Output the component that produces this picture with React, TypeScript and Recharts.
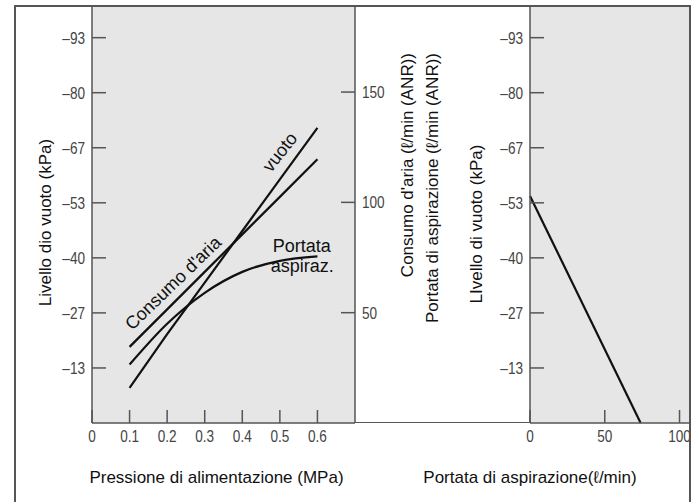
import React from 'react';
import { ComposedChart, Line, XAxis, YAxis, CartesianGrid, ReferenceDot, Label } from 'recharts';

// left panel: supply pressure (MPa)
const pressure = [0.1, 0.2, 0.3, 0.4, 0.5, 0.6];
const vacuumLevel = [8.5, 21.5, 34, 46.5, 59, 71.5]; // kPa, printed as negative
const airConsumption = [34.5, 51.5, 68.5, 85.5, 102.5, 119.5]; // ℓ/min (ANR)
const suctionFlow = [26.5, 45, 59, 68.5, 73.5, 75.5]; // ℓ/min (ANR)

const pressureTicks = [0, 0.1, 0.2, 0.3, 0.4, 0.5, 0.6];
const pressureTickLabels = ['0', '0.1', '0.2', '0.3', '0.4', '0.5', '0.6'];
const vacuumTicks = [13.33, 26.67, 40, 53.33, 66.67, 80, 93.33];
const vacuumTickLabels = ['–13', '–27', '–40', '–53', '–67', '–80', '–93'];
const flowTicks = [50, 100, 150];
const flowTickLabels = ['50', '100', '150'];

// right panel: suction flow vs vacuum level
const suctionFlowAxis = [0, 74];
const vacuumAtFlow = [55, 0];
const suctionTicks = [0, 50, 100];
const suctionTickLabels = ['0', '50', '100'];

// curve labels inside the left panel
const notes = [
  { text: 'vuoto', p: 0.5, v: 65.6, angle: -52 },
  { text: "Consumo d'aria", p: 0.216, v: 33.9, angle: -44 },
];

const leftData = pressure.map((p, i) => ({
  p,
  vuoto: vacuumLevel[i],
  consumo: airConsumption[i],
  portata: suctionFlow[i],
}));
const rightData = suctionFlowAxis.map((q, i) => ({ q, vuoto: vacuumAtFlow[i] }));

const AXIS = '#555';
const TICK_COLOR = '#444';
const FILL = '#e6e6e6';
const TITLE_FONT = '"Liberation Sans", Arial, sans-serif';
const TICK_FONT = '"Liberation Sans", Arial, sans-serif';

const lookup = (ticks: number[], labels: string[], v: number) => {
  const i = ticks.findIndex((t) => Math.abs(t - v) < 1e-6);
  return i >= 0 ? labels[i] : String(v);
};

// narrow digits, as in the printed original
const NarrowText = ({ x, y, anchor, children }: any) => (
  <text
    x={0}
    y={0}
    transform={`translate(${x} ${y}) scale(0.8 1)`}
    textAnchor={anchor}
    dominantBaseline="central"
    fill={TICK_COLOR}
    fontFamily={TICK_FONT}
    fontSize={17}
  >
    {children}
  </text>
);

const makeTick = (side: 'left' | 'right' | 'bottom', ticks: number[], labels: string[]) => (props: any) => {
  const { x, y, payload } = props;
  const txt = lookup(ticks, labels, payload.value);
  if (side === 'left') {
    return (
      <g>
        <line x1={x} x2={x + 14} y1={y} y2={y} stroke={AXIS} strokeWidth={1.5} />
        <NarrowText x={x - 7} y={y} anchor="end">{txt}</NarrowText>
      </g>
    );
  }
  if (side === 'right') {
    return (
      <g>
        <line x1={x - 14} x2={x} y1={y} y2={y} stroke={AXIS} strokeWidth={1.5} />
        <NarrowText x={x + 7} y={y} anchor="start">{txt}</NarrowText>
      </g>
    );
  }
  return (
    <g>
      <line x1={x} x2={x} y1={y} y2={y - 13} stroke={AXIS} strokeWidth={1.5} />
      <NarrowText x={x} y={y + 13} anchor="middle">{txt}</NarrowText>
    </g>
  );
};

const titleStyle = { fill: '#111', fontFamily: TITLE_FONT, fontSize: 17 };

const noteLabel = (text: string, angle: number) => (lp: any) => {
  const cx = lp.viewBox.x + (lp.viewBox.width || 0) / 2;
  const cy = lp.viewBox.y + (lp.viewBox.height || 0) / 2;
  return (
    <text x={cx} y={cy} transform={`rotate(${angle} ${cx} ${cy})`} textAnchor="middle" dominantBaseline="central" fill="#111" fontFamily={TITLE_FONT} fontSize={18}>
      {text}
    </text>
  );
};

export default function App() {
  return (
    <div style={{ position: 'absolute', left: 0, top: 0, width: 694, height: 502, overflow: 'hidden', background: '#fff' }}>
      <div style={{ position: 'absolute', left: 355, top: 422, width: 175, borderTop: `1.5px solid ${AXIS}` }} />

      {/* left panel */}
      <div style={{ position: 'absolute', left: 0, top: 0 }}>
        <ComposedChart width={530} height={502} data={leftData} margin={{ top: 6, right: 0, bottom: 0, left: 0 }}>
          <CartesianGrid fill={FILL} stroke="none" horizontal={false} vertical={false} />
          <XAxis
            dataKey="p"
            type="number"
            domain={[0, 0.7]}
            ticks={pressureTicks}
            interval={0}
            height={79}
            tickSize={0}
            tickMargin={0}
            tickLine={false}
            axisLine={{ stroke: AXIS, strokeWidth: 1.5 }}
            tick={makeTick('bottom', pressureTicks, pressureTickLabels)}
          >
            <Label
              content={(p: any) => (
                <text x={p.viewBox.x + p.viewBox.width / 2 - 7} y={p.viewBox.y + 54} textAnchor="middle" dominantBaseline="central" {...titleStyle}>
                  Pressione di alimentazione (MPa)
                </text>
              )}
            />
          </XAxis>
          <YAxis
            yAxisId="kpa"
            domain={[0, 101]}
            ticks={vacuumTicks}
            interval={0}
            width={92}
            tickSize={0}
            tickMargin={0}
            tickLine={false}
            axisLine={{ stroke: AXIS, strokeWidth: 1.5 }}
            tick={makeTick('left', vacuumTicks, vacuumTickLabels)}
          >
            <Label
              content={(p: any) => {
                const cx = p.viewBox.x + 45;
                const cy = p.viewBox.y + p.viewBox.height / 2 + 8;
                return (
                  <text x={cx} y={cy} transform={`rotate(-90 ${cx} ${cy})`} textAnchor="middle" dominantBaseline="central" {...titleStyle}>
                    Livello dio vuoto (kPa)
                  </text>
                );
              }}
            />
          </YAxis>
          <YAxis
            yAxisId="flow"
            orientation="right"
            domain={[0, 189]}
            ticks={flowTicks}
            interval={0}
            width={175}
            tickSize={0}
            tickMargin={0}
            tickLine={false}
            axisLine={{ stroke: AXIS, strokeWidth: 1.5 }}
            tick={makeTick('right', flowTicks, flowTickLabels)}
          >
            <Label
              content={(p: any) => {
                const top = p.viewBox.y + 47;
                const x1 = p.viewBox.x + 52;
                const x2 = p.viewBox.x + 77;
                return (
                  <g>
                    <text x={x1} y={top} transform={`rotate(-90 ${x1} ${top})`} textAnchor="end" dominantBaseline="central" {...titleStyle}>
                      Consumo d'aria (ℓ/min (ANR))
                    </text>
                    <text x={x2} y={top} transform={`rotate(-90 ${x2} ${top})`} textAnchor="end" dominantBaseline="central" {...titleStyle}>
                      Portata di aspirazione (ℓ/min (ANR))
                    </text>
                  </g>
                );
              }}
            />
          </YAxis>
          <Line yAxisId="kpa" dataKey="vuoto" type="linear" stroke="#111" strokeWidth={2.2} dot={false} isAnimationActive={false} />
          <Line yAxisId="flow" dataKey="consumo" type="linear" stroke="#111" strokeWidth={2.2} dot={false} isAnimationActive={false} />
          <Line yAxisId="flow" dataKey="portata" type="monotone" stroke="#111" strokeWidth={2.2} dot={false} isAnimationActive={false} />
          {notes.map((n) => (
            <ReferenceDot
              key={n.text}
              yAxisId="kpa"
              x={n.p}
              y={n.v}
              r={0}
              fill="none"
              stroke="none"
              label={{ content: noteLabel(n.text, n.angle) }}
            />
          ))}
          <ReferenceDot
            yAxisId="kpa"
            x={0.476}
            y={42.9}
            r={0}
            fill="none"
            stroke="none"
            label={{
              content: (lp: any) => {
                const cx = lp.viewBox.x + (lp.viewBox.width || 0) / 2;
                const cy = lp.viewBox.y + (lp.viewBox.height || 0) / 2;
                return (
                  <text x={cx} y={cy} textAnchor="start" dominantBaseline="central" fill="#111" fontFamily={TITLE_FONT} fontSize={18}>
                    <tspan x={cx + 2}>Portata</tspan>
                    <tspan x={cx} dy={20}>aspiraz.</tspan>
                  </text>
                );
              },
            }}
          />
        </ComposedChart>
      </div>

      {/* right panel */}
      <div style={{ position: 'absolute', left: 355, top: 0 }}>
        <ComposedChart width={339} height={502} data={rightData} margin={{ top: 6, right: 4, bottom: 0, left: 0 }}>
          <CartesianGrid fill={FILL} stroke="none" horizontal={false} vertical={false} />
          <XAxis
            dataKey="q"
            type="number"
            domain={[0, 107]}
            ticks={suctionTicks}
            interval={0}
            height={79}
            tickSize={0}
            tickMargin={0}
            tickLine={false}
            axisLine={{ stroke: AXIS, strokeWidth: 1.5 }}
            tick={makeTick('bottom', suctionTicks, suctionTickLabels)}
          >
            <Label
              content={(p: any) => (
                <text x={p.viewBox.x} y={p.viewBox.y + 54} textAnchor="middle" dominantBaseline="central" {...titleStyle}>
                  Portata di aspirazione(ℓ/min)
                </text>
              )}
            />
          </XAxis>
          <YAxis
            domain={[0, 101]}
            ticks={vacuumTicks}
            interval={0}
            width={175}
            tickSize={0}
            tickMargin={0}
            tickLine={false}
            axisLine={{ stroke: AXIS, strokeWidth: 1.5 }}
            tick={makeTick('left', vacuumTicks, vacuumTickLabels)}
          >
            <Label
              content={(p: any) => {
                const cx = p.viewBox.x + 121;
                const cy = p.viewBox.y + p.viewBox.height / 2 + 9.5;
                return (
                  <text x={cx} y={cy} transform={`rotate(-90 ${cx} ${cy})`} textAnchor="middle" dominantBaseline="central" {...titleStyle}>
                    LIvello di vuoto (kPa)
                  </text>
                );
              }}
            />
          </YAxis>
          <Line dataKey="vuoto" type="linear" stroke="#111" strokeWidth={2.2} dot={false} isAnimationActive={false} />
        </ComposedChart>
      </div>

      {/* outer frame, drawn last so it sits over the plot fill */}
      <svg width={694} height={502} style={{ position: 'absolute', left: 0, top: 0, pointerEvents: 'none' }}>
        <path d="M15 520 V6 H690 V520" stroke="#555" strokeWidth={2} fill="none" />
      </svg>
    </div>
  );
}
